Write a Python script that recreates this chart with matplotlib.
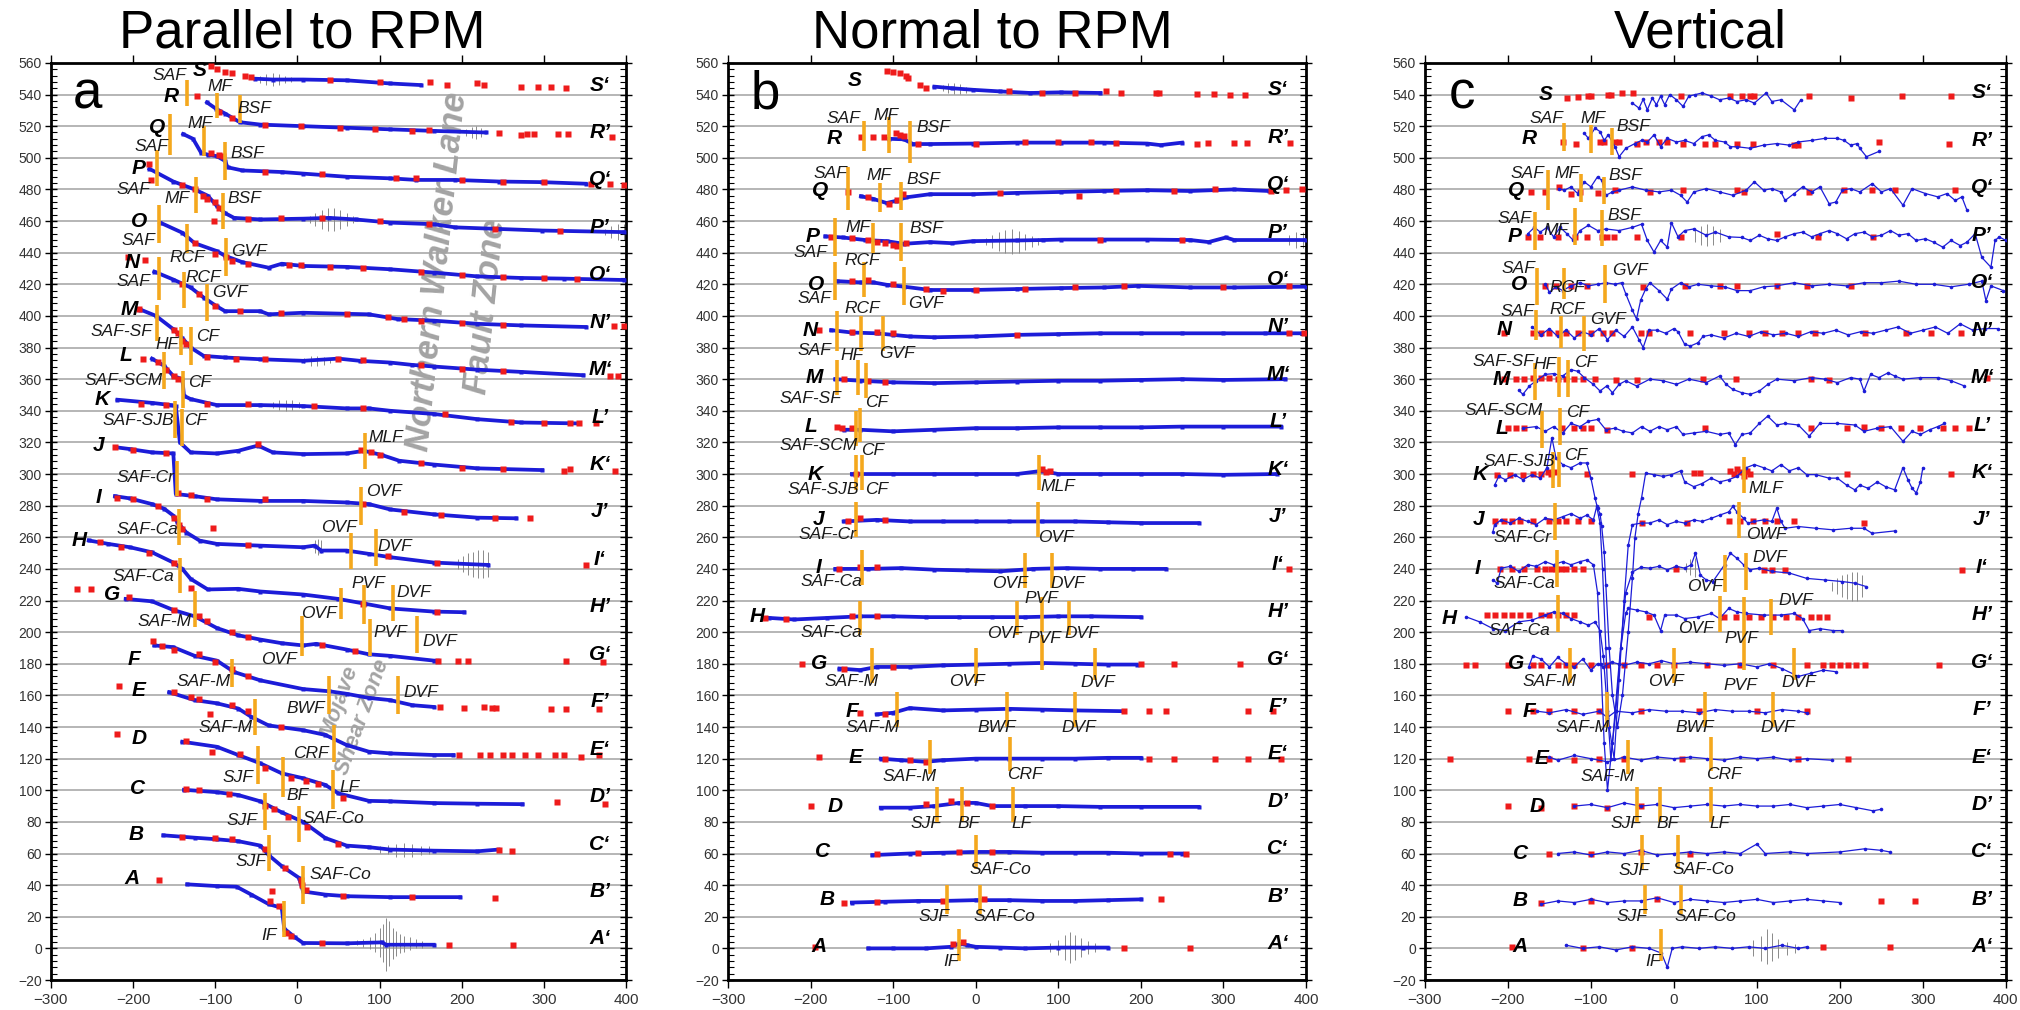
import numpy as np
import matplotlib.pyplot as plt
from matplotlib.ticker import MultipleLocator

plt.rcParams['font.family'] = ['Liberation Sans', 'DejaVu Sans']

BLUE = '#1c1cd8'
RED = '#ee1b1b'
ORANGE = '#f4a81d'
GREY_TXT = '#a3a3a3'

NAMES = list('ABCDEFGHIJKLMNOPQRS')
RIGHT_NAMES = [n + ('\u2018' if i % 2 == 0 else '\u2019') for i, n in enumerate(NAMES)]

# ---------------------------------------------------------------
# a) parallel to RPM : (distance [km], plotted velocity)
# ---------------------------------------------------------------
par_A = [(-134, 40.5), (-98, 39.4), (-74, 39), (-56, 34), (-35, 28), (-19, 25.6), (-16, 12.5),
         (-3, 7), (7, 3.4), (60, 3.2), (103, 3.8), (108, 2.3), (166, 2.3)]
par_B = [(-163, 71.5), (-125, 70), (-98, 69), (-72, 67.8), (-45, 65), (-35, 59), (-19, 52),
         (2, 44.6), (7, 36), (34, 34), (60, 33), (113, 32.4), (198, 32.4)]
par_C = [(-138, 100.3), (-98, 98.8), (-72, 97), (-45, 93), (-19, 86), (7, 80), (34, 69.8),
         (60, 65), (87, 64), (113, 62.5), (166, 61.8), (219, 61.4), (245, 62.5)]
par_D = [(-140, 130.7), (-98, 127.5), (-72, 122.3), (-45, 117), (-19, 110.7), (7, 107.6),
         (34, 103.4), (50, 98), (87, 93.3), (113, 93), (166, 91.9), (219, 91.5), (274, 91.2)]
par_E = [(-156, 162), (-125, 157), (-98, 155), (-72, 151.7), (-56, 146.4), (-35, 141), (7, 138),
         (34, 135), (60, 128.6), (87, 124.4), (113, 123.3), (166, 122.3), (190, 122.3)]
par_F = [(-174, 191.6), (-151, 190.5), (-125, 185), (-98, 182), (-77, 174.8), (-45, 169.5),
         (7, 164), (39, 162.6), (60, 161), (87, 158.4), (113, 157), (140, 153.8), (166, 152.7)]
par_G = [(-209, 221), (-177, 219.5), (-151, 214), (-125, 210), (-98, 202.6), (-72, 198),
         (-45, 195.3), (-19, 193), (7, 191.6), (23, 192.6), (60, 189), (87, 186), (113, 185),
         (166, 182), (171, 182)]
par_H = [(-254, 258), (-230, 255.8), (-204, 253.7), (-177, 250.5), (-151, 244), (-140, 240),
         (-130, 233.7), (-109, 227), (-72, 227.4), (-45, 225.7), (7, 223.8), (50, 221), (82, 218),
         (113, 215), (166, 213), (203, 212.6)]
par_I = [(-222, 286), (-204, 284.6), (-177, 281), (-162, 278), (-151, 273.7), (-146, 269.5),
         (-135, 263), (-119, 257.9), (-98, 255.8), (-45, 254.7), (7, 253.7), (21, 254.7),
         (29, 251.6), (60, 251.6), (87, 249.5), (113, 247.4), (166, 244), (232, 242.5)]
par_J = [(-222, 317), (-204, 315.8), (-177, 313.7), (-151, 313), (-148, 287.4), (-125, 286),
         (-98, 284), (-45, 283), (7, 283), (60, 282), (87, 281), (113, 277.6), (166, 274.5),
         (219, 272.4), (266, 272)]
par_K = [(-219, 347), (-177, 345), (-154, 343.6), (-148, 343), (-143, 320), (-130, 313.7),
         (-98, 313), (-72, 314.7), (-48, 318), (-30, 313.7), (7, 312.6), (60, 313), (81, 314.7),
         (103, 312), (124, 308.4), (166, 306), (219, 303.6), (298, 302.5)]
par_L = [(-177, 373), (-162, 368.4), (-151, 362), (-140, 360), (-138, 349.5), (-130, 347.4),
         (-98, 343.6), (-45, 343.6), (7, 343), (60, 341.5), (87, 341.5), (113, 340), (166, 338),
         (219, 334.7), (272, 332.6), (343, 332)]
par_M = [(-191, 404), (-172, 400), (-151, 391.6), (-140, 386), (-130, 380), (-114, 374.7),
         (-88, 373.7), (-45, 372.6), (7, 371.6), (50, 373), (76, 371.6), (113, 370.5), (140, 369),
         (166, 368), (219, 366), (272, 364.6), (348, 362.5)]
par_N = [(-174, 428), (-151, 423), (-130, 418), (-114, 411.6), (-98, 406), (-88, 403), (-45, 403),
         (-35, 401), (7, 402), (87, 401), (122, 398), (166, 397), (219, 395), (272, 394), (351, 393)]
par_O = [(-167, 459), (-140, 452.6), (-125, 446), (-98, 441), (-88, 438), (-67, 434),
         (-35, 430.5), (-19, 433), (7, 431.6), (60, 431), (113, 429.5), (166, 427.4), (219, 425),
         (272, 424), (324, 423.6), (398, 422.7)]
par_P = [(-180, 493), (-151, 485), (-125, 480), (-109, 476), (-98, 469.5), (-88, 465), (-77, 462),
         (-45, 461), (7, 461.5), (39, 462), (71, 461), (113, 459), (166, 458), (192, 456),
         (245, 455), (298, 454), (398, 453)]
par_Q = [(-139, 515), (-127, 512), (-117, 503), (-109, 502), (-98, 501), (-88, 498), (-85, 494),
         (-67, 492), (-19, 491), (7, 490), (60, 488), (113, 487), (145, 486), (192, 486),
         (245, 485), (298, 484.6), (351, 483.6)]
par_R = [(-110, 535), (-99, 531), (-88, 528), (-70, 522.5), (-45, 521), (7, 520), (60, 519),
         (113, 518), (166, 517), (229, 516)]
par_S = [(-51, 550), (-30, 549.5), (7, 549.5), (60, 549), (113, 547), (150, 546)]

par_A_gps = [(-168, 43), (-31, 36), (-33, 30), (-22, 27), (-14, 10), (-8, 8), (30, 3.5), (184, 2.3), (263, 2.3)]
par_B_gps = [(-140, 70.5), (-100, 69.5), (-80, 69), (-40, 63), (-15, 51), (4, 43), (6, 40), (10, 37), (55, 33), (140, 32.5), (240, 32)]
par_C_gps = [(-135, 101), (-120, 100), (-83, 97.5), (-40, 90), (-28, 88), (-12, 83), (12, 77), (50, 66), (245, 62.5), (261, 61.4)]
par_D_gps = [(-220, 135.3), (-135, 131), (-104, 124), (-70, 123), (-40, 114), (-8, 108), (10, 106), (25, 104), (55, 95), (316, 92.5), (375, 91.5)]
par_E_gps = [(-217, 166), (-150, 162), (-130, 159), (-106, 148.5), (-120, 158), (-80, 154), (-60, 150), (-20, 140),
             (197, 122), (222, 122), (234, 122), (250, 122), (261, 122), (277, 122), (293, 122), (313, 122), (324, 122), (345, 121), (367, 122)]
par_F_gps = [(-176, 194.7), (-165, 191), (-150, 189), (-120, 186), (-100, 181), (-80, 177), (-60, 172), (174, 152.7), (203, 152),
             (227, 152.7), (237, 152), (242, 152), (309, 151.7), (327, 151.7), (367, 151.7)]
par_G_gps = [(-205, 222), (-150, 214), (-120, 210), (-110, 207), (-80, 200), (-60, 197), (30, 192), (70, 188), (171, 182), (195, 182), (208, 182), (327, 181.5), (372, 181)]
par_H_gps = [(-268, 227.4), (-251, 227), (-240, 257), (-215, 254), (-129, 227.8), (-180, 250), (-150, 244), (80, 218), (170, 213)]
par_I_gps = [(-220, 285), (-200, 284), (-170, 280), (-150, 272), (-144, 268), (-140, 265), (-103, 266), (-60, 255), (110, 248), (170, 244), (351, 242.5)]
par_J_gps = [(-222, 317), (-200, 315), (-160, 313), (-145, 288), (-130, 287), (-110, 284), (-40, 284), (80, 281), (130, 276), (175, 274), (240, 272), (283, 272.4)]
par_K_gps = [(-190, 344), (-160, 343.6), (-48, 319), (78, 315), (90, 314), (100, 312), (150, 307), (200, 304), (250, 303), (324, 302), (332, 303), (387, 302)]
par_L_gps = [(-188, 373), (-170, 371), (-160, 366), (-150, 362), (-145, 360), (-110, 344), (-60, 344), (20, 343), (80, 342), (180, 338),
             (260, 333), (300, 332), (332, 332), (343, 332), (364, 332)]
par_M_gps = [(-193, 404.6), (-150, 391), (-145, 389), (-140, 384), (-135, 382), (-110, 374), (-75, 373), (-40, 373), (50, 373), (80, 372),
             (150, 369), (200, 366.5), (250, 365), (380, 362), (390, 362)]
par_N_gps = [(-206, 437), (-185, 435.6), (-140, 420), (-120, 414), (-100, 406), (-70, 403), (-20, 402), (60, 401), (110, 399), (130, 398),
             (150, 397), (200, 395.5), (250, 394.5), (385, 393.7), (398, 393.7)]
par_O_gps = [(-125, 446), (-100, 439), (-87, 437), (-80, 435), (-60, 433), (-10, 432), (5, 432), (40, 431), (80, 430.5), (150, 428),
             (200, 426), (250, 424.5), (300, 424), (340, 423.5)]
par_P_gps = [(-180, 496), (-178, 486), (-140, 483), (-125, 480), (-115, 476), (-110, 474), (-100, 472), (-95, 468), (-101, 460), (-60, 461),
             (-20, 462), (30, 462), (100, 460), (160, 458), (240, 455), (320, 454)]
par_Q_gps = [(-105, 503), (-95, 502), (-90, 501), (-40, 491), (30, 490), (120, 487), (145, 487), (200, 486), (250, 485), (300, 484.5),
             (358, 483.6), (380, 483.6), (398, 483)]
par_R_gps = [(-122, 539), (-96, 529), (-80, 525), (-40, 521), (5, 520), (52, 519), (95, 518), (140, 517), (160, 517.5), (245, 515.4),
             (272, 514.7), (280, 515), (288, 515), (317, 515), (330, 515), (383, 513)]
par_S_gps = [(-105, 558), (-98, 556), (-88, 554), (-80, 553.5), (-64, 551.5), (-56, 551), (40, 549), (100, 548),
             (161, 548), (182, 546), (219, 547), (227, 546), (272, 545), (293, 545), (309, 545), (327, 544)]

par_err = [(-45, 549.5, 2), (-38, 549.5, 3.5), (-30, 549.5, 4), (-22, 549.5, 3.5), (-15, 549.5, 2.5), (-8, 549.5, 1.5),
           (205, 516, 2), (212, 516, 3.5), (218, 516, 4), (224, 516, 3),
           (15, 461, 2), (22, 461, 4), (30, 461, 6), (37, 461, 7), (44, 461, 7), (52, 461, 6), (60, 461, 4), (68, 461, 2),
           (375, 453, 2), (382, 453, 4), (390, 453, 5), (397, 453, 5),
           (8, 371.6, 1.5), (16, 371.6, 3), (24, 371.6, 3), (32, 371.6, 2.5), (40, 371.6, 1.5),
           (-30, 343.6, 2), (-22, 343.6, 3), (-14, 343.6, 3.5), (-6, 343.6, 3), (2, 343.6, 2),
           (21, 254, 4), (25, 254, 5), (29, 254, 4),
           (195, 243, 3), (202, 243, 5), (208, 243, 7), (214, 243, 8), (220, 243, 9), (226, 243, 9), (232, 243, 8),
           (100, 62.5, 2), (110, 62.5, 3), (120, 62, 4), (130, 62, 4.5), (140, 62, 4), (150, 62, 3), (160, 62, 2.5),
           (72, 3.5, 1.5), (80, 3.5, 2.5), (88, 3.5, 4), (95, 3.5, 6), (100, 3.8, 9), (104, 3.5, 12), (108, 2.5, 17),
           (112, 3, 14), (116, 3, 10), (120, 3, 8), (125, 3, 6), (130, 3, 5), (137, 3, 4), (145, 3, 3), (152, 2.5, 2)]

# fault: name, x, y bottom, y top, label x, label y
par_faults = [("SAF", -134, 533, 549, -156, 552), ("MF", -98, 525, 541, -94, 545), ("BSF", -70, 522, 540, -52, 531),
              ("SAF", -155, 502, 528, -178, 507), ("MF", -114, 501, 520, -118, 522), ("BSF", -88, 486, 510, -61, 503),
              ("SAF", -171, 482, 505, -199, 480), ("MF", -123, 465, 488, -146, 474), ("BSF", -90, 455, 478, -64, 474),
              ("SAF", -168, 446, 470, -193, 448), ("RCF", -134, 440, 458, -134, 437), ("GVF", -87, 425, 449, -59, 441),
              ("SAF", -168, 410, 437, -200, 422), ("RCF", -138, 405, 428, -114, 424), ("GVF", -110, 397, 420, -82, 415),
              ("SAF-SF", -171, 384, 407, -214, 390), ("HF", -142, 375, 393, -159, 382), ("CF", -130, 369, 393, -109, 387),
              ("SAF-SCM", -162, 354, 377, -212, 359), ("CF", -139, 342, 365, -119, 358),
              ("SAF-SJB", -149, 323, 346, -193, 334), ("CF", -141, 318, 341, -124, 334), ("MLF", 82, 303, 326, 108, 323),
              ("SAF-Cr", -147, 286, 308, -185, 298), ("OVF", 77, 268, 292, 105, 289),
              ("SAF-Ca", -144, 255, 278, -183, 265), ("OVF", 65, 240, 263, 50, 266), ("DVF", 96, 242, 265, 119, 254),
              ("SAF-Ca", -143, 225, 247, -188, 235), ("OVF", 53, 208, 228, 26, 212), ("PVF", 81, 205, 230, 87, 231), ("DVF", 117, 207, 230, 142, 225),
              ("SAF-M", -124, 203, 226, -162, 207), ("OVF", 6, 185, 210, -22, 183), ("PVF", 88, 185, 208, 113, 200), ("DVF", 146, 187, 210, 173, 194),
              ("SAF-M", -79, 165, 183, -114, 169), ("BWF", 38, 148, 172, 10, 152), ("DVF", 122, 148, 172, 150, 162),
              ("SAF-M", -51, 135, 158, -88, 140), ("CRF", 45, 118, 141, 17, 123),
              ("SJF", -48, 104, 128, -72, 108), ("BF", -18, 96, 121, 0, 97), ("LF", 43, 88, 113, 63, 102),
              ("SJF", -39, 75, 98, -67, 81), ("SAF-Co", 2, 67, 90, 44, 82),
              ("SJF", -35, 49, 72, -57, 55), ("SAF-Co", 7, 28, 52, 52, 47),
              ("IF", -16, 7, 30, -35, 8)]

par_left = [(-201, 44), (-196, 72), (-194, 101), (-193, 133), (-193, 163), (-199, 183), (-226, 224), (-265, 258),
            (-242, 285), (-242, 318), (-238, 347), (-208, 375), (-205, 404), (-201, 434), (-193, 460), (-193, 493),
            (-171, 519), (-154, 539), (-119, 555)]

# ---------------------------------------------------------------
# b) normal to RPM
# ---------------------------------------------------------------
nor_A = [(-130, 0), (-100, 0), (-60, 0), (-30, 1), (-20, 3), (-10, 2), (0, 1), (30, 0.5), (60, 0), (100, 0.5), (130, 0.5), (160, 0.5)]
nor_B = [(-150, 29), (-110, 29.5), (-70, 30), (-40, 30), (0, 30.5), (40, 30.5), (80, 30), (120, 30), (160, 30.5), (200, 31)]
nor_C = [(-125, 59), (-80, 60), (-40, 60.5), (0, 61), (40, 61), (80, 60.5), (120, 60.5), (160, 60.5), (200, 60), (250, 60)]
nor_D = [(-115, 89), (-80, 89), (-50, 90), (-20, 92), (0, 92), (20, 90), (60, 90), (100, 90), (150, 89.5), (200, 89.5), (270, 89.5)]
nor_E = [(-115, 120), (-90, 119), (-60, 118), (-40, 119), (0, 120), (40, 120), (80, 120), (120, 120), (160, 120.5), (200, 120.5)]
nor_F = [(-120, 148), (-100, 149), (-80, 152), (-40, 150.5), (0, 151), (40, 151.5), (80, 151), (120, 150.5), (180, 150)]
nor_G = [(-165, 177), (-140, 176), (-120, 178), (-80, 178), (-40, 179), (0, 179.5), (40, 180), (80, 180.5), (120, 180), (160, 179.5), (195, 179.5)]
nor_H = [(-250, 209), (-220, 208), (-180, 209), (-140, 210), (-100, 210), (-60, 209.5), (-20, 209.5), (20, 209.5), (60, 209.5), (100, 210), (140, 210), (200, 209.5)]
nor_I = [(-170, 240), (-130, 240), (-90, 240.5), (-50, 239.5), (-10, 239), (30, 238.5), (70, 240), (110, 240.5), (150, 240), (190, 240), (230, 240)]
nor_J = [(-160, 270), (-120, 271), (-80, 270), (-40, 270), (0, 270), (40, 270), (80, 270), (120, 270), (160, 269.5), (200, 269), (270, 269)]
nor_K = [(-150, 300), (-100, 300), (-50, 300), (0, 300), (50, 300), (80, 302), (100, 300), (150, 300), (200, 300), (250, 300), (300, 299.5), (365, 300)]
nor_L = [(-160, 328), (-140, 328), (-100, 327), (-50, 328), (0, 329), (50, 329), (100, 329.5), (150, 329.5), (200, 329.5), (250, 330), (300, 330), (370, 330)]
nor_M = [(-170, 360), (-140, 359), (-100, 358), (-50, 357.5), (0, 358), (50, 358.5), (100, 359), (150, 359), (200, 359.5), (250, 360), (300, 359.5), (375, 360)]
nor_N = [(-175, 391), (-150, 389.5), (-120, 389), (-100, 388), (-80, 387), (-50, 386.5), (0, 387), (50, 388), (100, 388.5), (150, 389),
         (200, 389), (250, 389), (300, 389), (350, 389), (395, 389)]
nor_O = [(-168, 422), (-139, 421.2), (-124, 421.2), (-108, 419.7), (-87, 418.5), (-55, 416.4), (-3, 416.4), (50, 417), (103, 417.6),
         (155, 418), (197, 419), (260, 418), (313, 418), (400, 418.5)]
nor_P = [(-182, 450.3), (-161, 449.6), (-134, 448), (-108, 447.3), (-87, 445.6), (-55, 446.7), (-29, 446), (-3, 447.3), (50, 447.7),
         (82, 448), (103, 448.3), (155, 448.3), (208, 448.3), (260, 448), (282, 446.7), (303, 449.6), (313, 448), (400, 448)]
nor_Q = [(-139, 475.7), (-124, 474), (-108, 471.4), (-97, 472.7), (-84, 475), (-55, 477), (-3, 477), (50, 477.8), (103, 478.4),
         (155, 479), (208, 479.5), (260, 479), (313, 480), (355, 479)]
nor_R = [(-105, 512), (-87, 511.7), (-76, 508.7), (-55, 508.7), (-3, 509), (50, 509.6), (103, 509.6), (155, 509.6), (208, 509),
         (224, 508), (250, 509.6)]
nor_S = [(-50, 545), (-29, 544), (-3, 543), (29, 542), (66, 541), (103, 541.4), (151, 541)]

nor_A_gps = [(-195, 1), (-28, 3), (-15, 4), (180, 0.5), (260, 0.5)]
nor_B_gps = [(-160, 29), (-120, 29.5), (-40, 30), (10, 31), (225, 31)]
nor_C_gps = [(-120, 60), (-70, 60.5), (-20, 61), (20, 61), (235, 60), (255, 60)]
nor_D_gps = [(-200, 90), (-60, 91), (-30, 93), (-10, 92), (20, 90)]
nor_E_gps = [(-190, 121), (-110, 120), (-80, 119), (-60, 118), (210, 120), (240, 120), (290, 120), (330, 120), (370, 120)]
nor_F_gps = [(-140, 149), (-110, 148), (180, 150), (210, 150), (230, 150), (330, 150), (360, 150)]
nor_G_gps = [(-210, 180), (-160, 177), (-100, 178), (200, 180), (240, 180), (320, 180)]
nor_H_gps = [(-255, 209), (-230, 208), (-150, 210), (-120, 210)]
nor_I_gps = [(-165, 240), (-140, 241), (-120, 241), (380, 240)]
nor_J_gps = [(-155, 270), (-140, 272), (-110, 271)]
nor_K_gps = [(-145, 300), (80, 303), (85, 301), (90, 302)]
nor_L_gps = [(-168, 330), (-162, 329), (-150, 329)]
nor_M_gps = [(-160, 360), (-130, 359), (-110, 358)]
nor_N_gps = [(-190, 391), (-150, 390), (-120, 390), (-100, 389), (50, 388), (380, 389), (398, 389)]
nor_O_gps = [(-150, 422), (-130, 423), (-100, 420), (-60, 417), (-40, 416), (0, 416.5), (60, 417), (120, 418), (180, 419), (300, 418), (380, 419)]
nor_P_gps = [(-175, 450), (-150, 449), (-130, 448), (-120, 447), (-110, 446), (-100, 445), (-95, 444), (-85, 446), (150, 448), (250, 448)]
nor_Q_gps = [(-155, 478.4), (-130, 475), (-105, 471), (-95, 473), (-88, 477), (30, 478), (125, 476), (170, 479), (240, 479), (290, 480),
             (358, 479), (376, 479.5), (395, 480)]
nor_R_gps = [(-139, 513), (-124, 513), (-111, 513.4), (-97, 515.5), (-92, 514.5), (-87, 513.8), (-70, 509), (0, 509), (60, 510), (100, 510),
             (140, 510), (170, 509.5), (268, 508.5), (281, 509.6), (313, 509.6), (329, 509.6), (381, 509.6)]
nor_S_gps = [(-108, 555), (-100, 554), (-92, 553.6), (-84, 552), (-82, 550.5), (-68, 546), (-60, 544), (40, 542), (80, 541), (120, 541),
             (158, 542), (176, 541), (218, 541), (222, 541), (268, 540.3), (289, 540.3), (308, 540), (326, 540)]

nor_err = [(-40, 544, 2), (-33, 544, 3), (-26, 544, 3.5), (-19, 543.5, 3), (-12, 543, 2),
           (13, 447, 2), (20, 447, 4), (28, 447, 6), (36, 447, 7.5), (44, 447, 8), (52, 447, 7), (60, 447, 5), (68, 447, 3.5), (76, 447, 2),
           (380, 448, 3), (388, 448, 5), (396, 448, 5),
           (90, 0.5, 3), (100, 0.5, 5), (108, 0.5, 8), (114, 0.5, 10), (120, 0.5, 8), (128, 0.5, 6), (136, 0.5, 4), (145, 0.5, 3)]

nor_faults = [("SAF", -135, 504, 523, -160, 525), ("MF", -105, 503, 526, -108, 527), ("BSF", -80, 497, 523, -51, 519),
              ("SAF", -155, 467, 494, -176, 490), ("MF", -116, 466, 484, -117, 489), ("BSF", -91, 467, 485, -63, 486),
              ("SAF", -171, 438, 462, -200, 440), ("MF", -124, 440, 459, -142, 456), ("BSF", -91, 435, 459, -60, 455),
              ("SAF", -170, 410, 434, -195, 411), ("RCF", -135, 412, 434, -137, 435), ("GVF", -87, 407, 431, -60, 408),
              ("SAF", -168, 378, 403, -195, 378), ("RCF", -139, 378, 400, -137, 405), ("GVF", -112, 378, 400, -95, 376),
              ("SAF-SF", -168, 350, 372, -200, 348), ("HF", -143, 350, 372, -150, 375), ("CF", -133, 348, 370, -120, 345),
              ("SAF-SCM", -145, 318, 340, -190, 318), ("CF", -140, 320, 342, -125, 315),
              ("SAF-SJB", -145, 290, 312, -185, 290), ("CF", -138, 290, 312, -120, 290), ("MLF", 77, 290, 312, 100, 292),
              ("SAF-Cr", -145, 260, 282, -180, 262), ("OVF", 75, 260, 282, 97, 260),
              ("SAF-Ca", -138, 230, 252, -175, 232), ("OVF", 60, 228, 250, 42, 231), ("DVF", 92, 228, 250, 112, 231),
              ("SAF-Ca", -140, 198, 220, -175, 200), ("OVF", 50, 198, 220, 35, 199), ("PVF", 80, 200, 222, 80, 221), ("DVF", 113, 198, 220, 128, 199),
              ("SAF-M", -125, 168, 190, -150, 169), ("OVF", 0, 168, 190, -10, 169), ("PVF", 80, 176, 198, 83, 196), ("DVF", 145, 170, 190, 148, 168),
              ("SAF-M", -95, 140, 162, -125, 140), ("BWF", 38, 140, 162, 25, 140), ("DVF", 120, 140, 162, 125, 140),
              ("SAF-M", -55, 110, 132, -80, 109), ("CRF", 42, 112, 134, 60, 110),
              ("SJF", -47, 80, 102, -60, 79), ("BF", -17, 80, 102, -8, 79), ("LF", 45, 80, 102, 55, 79),
              ("SAF-Co", 0, 50, 72, 30, 50),
              ("SJF", -35, 22, 40, -50, 20), ("SAF-Co", 5, 22, 40, 35, 20),
              ("IF", -20, -8, 12, -30, -8)]

nor_left = [(-190, 1), (-180, 31), (-185, 61), (-170, 90), (-145, 121), (-150, 150), (-190, 180), (-265, 210),
            (-190, 241), (-190, 271), (-195, 300), (-200, 330), (-195, 361), (-200, 391), (-193, 420), (-197, 450),
            (-189, 479.5), (-171, 512), (-147, 549)]

# ---------------------------------------------------------------
# c) vertical
# ---------------------------------------------------------------
ver_A = [(-130, 2), (-110, 0), (-90, 1), (-70, -1), (-50, 1), (-30, 0), (-15, -3), (-8, -12), (-2, 0), (10, 1), (30, 0), (50, 1),
         (70, 0), (90, 1), (110, 0), (130, 2), (150, 0), (160, 1)]
ver_B = [(-160, 28), (-140, 30), (-120, 29), (-100, 31), (-80, 29), (-60, 30), (-40, 30), (-20, 32), (0, 29), (20, 31), (40, 30),
         (60, 29), (80, 30), (100, 31), (120, 29), (140, 30), (160, 31), (180, 30), (200, 29)]
ver_C = [(-140, 60), (-120, 61), (-100, 59), (-80, 61), (-60, 60), (-40, 62), (-20, 59), (0, 60), (20, 61), (40, 60), (60, 61),
         (80, 60), (100, 66), (110, 60), (140, 61), (160, 60), (200, 61), (230, 63), (250, 62), (260, 61)]
ver_D = [(-120, 90), (-100, 91), (-80, 89), (-60, 92), (-40, 90), (-20, 91), (0, 89), (20, 90), (40, 91), (60, 90), (80, 91),
         (100, 90), (120, 90), (140, 91), (160, 89), (180, 90), (200, 91), (220, 89), (240, 87), (250, 88)]
ver_E = [(-150, 121), (-140, 119), (-120, 122), (-100, 120), (-80, 118), (-60, 121), (-40, 119), (-20, 121), (0, 120), (20, 121),
         (40, 120), (60, 119), (80, 121), (100, 120), (120, 121), (140, 119), (160, 120), (190, 119)]
ver_F = [(-165, 150), (-150, 149), (-130, 151), (-110, 148), (-90, 150), (-80, 146), (-70, 150), (-50, 149), (-30, 151), (-10, 150),
         (10, 150), (30, 149), (50, 151), (70, 150), (90, 150), (110, 149), (130, 151), (150, 150), (160, 149)]
ver_G = [(-175, 178), (-170, 185), (-160, 183), (-150, 178), (-140, 184), (-130, 180), (-120, 178), (-110, 183), (-100, 176), (-92, 180),
         (-85, 178), (-75, 181), (-60, 179), (-45, 181), (-30, 180), (-15, 182), (0, 180), (20, 181), (40, 180), (60, 179), (80, 180),
         (100, 178), (115, 180), (130, 177), (150, 172), (165, 174), (180, 176), (195, 175)]
ver_H = [(-250, 209.6), (-234, 206.5), (-218, 202.2), (-203, 201), (-187, 206.5), (-171, 207.6), (-155, 210.8), (-145, 212.8),
         (-134, 211.8), (-124, 208.6), (-113, 206.5), (-103, 204.4), (-95, 206.5), (-89, 201), (-85, 185), (-80, 150), (-76, 120),
         (-70, 150), (-64, 190), (-58, 212), (-55, 215), (-45, 214), (-34, 212.8), (-24, 210.8), (-16, 201), (-11, 210.8), (3, 210.8),
         (13, 208.6), (29, 209.6), (45, 211.8), (55, 208.6), (66, 215), (76, 212.8), (87, 211.8), (108, 210.8), (129, 210.8),
         (145, 211.8), (155, 208.6), (163, 201), (176, 202.2), (192, 201), (203, 201)]
ver_I = [(-218, 233), (-213, 231), (-208, 240.5), (-197, 241.6), (-187, 238.4), (-176, 242.6), (-166, 241.6), (-155, 244.6),
         (-145, 242.6), (-134, 244.6), (-124, 242.6), (-113, 244.6), (-105, 245.7), (-97, 242.6), (-92, 225), (-88, 180),
         (-84, 130), (-80, 100), (-74, 130), (-66, 180), (-58, 225), (-50, 238), (-40, 241), (-29, 240.5), (-18, 241.6),
         (-8, 239.5), (3, 241.6), (13, 240.5), (21, 242.6), (26, 250), (32, 236), (39, 233), (47, 232), (61, 242.6), (68, 250),
         (76, 246.7), (84, 242.6), (92, 239.5), (103, 240.5), (118, 238.4), (139, 237.4), (160, 234), (182, 233), (203, 232),
         (218, 231), (232, 228.8)]
ver_J = [(-218, 263.6), (-216, 268), (-208, 271), (-197, 269), (-187, 272), (-176, 270), (-166, 268), (-155, 272), (-145, 271),
         (-134, 273), (-124, 275), (-113, 272), (-105, 274), (-97, 271), (-93, 279.5), (-89, 269), (-86, 240), (-82, 190),
         (-78, 140), (-72, 120), (-66, 170), (-60, 220), (-55, 255), (-50, 268), (-39, 269), (-29, 269), (-18, 271), (-8, 268),
         (3, 270), (13, 269), (24, 271), (34, 270), (45, 272), (55, 274), (66, 276), (71, 279.5), (76, 276), (84, 272), (89, 269),
         (97, 270), (108, 271), (118, 270), (124, 278.4), (129, 270), (134, 265.7), (150, 266.8), (171, 265.7), (192, 264.7),
         (213, 265.7), (229, 265.7), (239, 262.5), (266, 264)]
ver_K = [(-216, 293), (-211, 298.5), (-203, 296.4), (-192, 299.6), (-182, 296.4), (-171, 299.6), (-161, 297.4), (-153, 304),
         (-147, 323), (-142, 310), (-134, 306), (-124, 304), (-113, 307), (-105, 307), (-100, 297.4), (-95, 284.8), (-92, 278.4),
         (-89, 275), (-87, 267), (-84, 251), (-82, 230), (-78, 190), (-74, 160), (-68, 140), (-62, 160), (-55, 200), (-50, 234),
         (-47, 259.6), (-43, 275), (-39, 284.8), (-34, 300.6), (-24, 299.6), (-13, 298.5), (-3, 299.6), (8, 302), (13, 295),
         (24, 292), (34, 294), (45, 297.4), (55, 295), (66, 296.4), (76, 298.5), (87, 304), (97, 306), (108, 304), (118, 302),
         (129, 306), (139, 302), (150, 304), (160, 299.6), (171, 299.6), (187, 297.4), (197, 297.4), (208, 293), (218, 290),
         (224, 293), (234, 291), (245, 295), (255, 292), (266, 290), (276, 304), (282, 296.4), (287, 291), (292, 288),
         (297, 295), (300, 304)]
ver_L = [(-182, 329), (-166, 330), (-155, 327), (-145, 330), (-134, 326), (-124, 332), (-113, 330), (-103, 333.4), (-92, 334.5),
         (-82, 328), (-71, 329), (-61, 327), (-50, 326), (-39, 330), (-29, 327), (-18, 330), (-8, 328), (3, 330), (11, 325),
         (24, 326), (39, 327), (55, 325), (66, 326), (74, 318.6), (82, 325), (92, 326), (103, 332), (113, 336.6), (124, 331),
         (134, 332), (150, 331), (163, 324), (176, 332), (197, 332), (218, 331), (229, 327), (245, 329), (261, 330), (276, 320.7),
         (287, 327), (297, 325), (308, 328), (318, 330), (326, 332)]
ver_M = [(-187, 353), (-182, 350.4), (-174, 355.7), (-166, 359), (-155, 363), (-145, 363.5), (-134, 362), (-124, 366), (-116, 365),
         (-108, 361), (-97, 356.7), (-89, 352.5), (-81, 355.7), (-74, 351.4), (-66, 356.7), (-58, 359), (-45, 355.7), (-29, 360),
         (-13, 359), (3, 356.7), (18, 360), (39, 357.8), (55, 362), (63, 356.7), (71, 353.5), (82, 351.4), (92, 350.4), (103, 352.5),
         (113, 356.7), (124, 360), (145, 359), (166, 361), (182, 360), (197, 357.8), (213, 361), (224, 360), (229, 352.5),
         (237, 363), (247, 361), (258, 364), (266, 362), (276, 360), (297, 361), (318, 361), (334, 359), (350, 355.7)]
ver_N = [(-171, 393), (-160, 388), (-150, 392), (-140, 387), (-130, 391), (-120, 386), (-110, 390), (-100, 388), (-90, 392),
         (-80, 385), (-70, 391), (-60, 387), (-50, 393), (-42, 385), (-37, 380), (-30, 391), (-20, 391), (-10, 389), (0, 392),
         (5, 390), (13, 382), (20, 381), (29, 383), (35, 387), (45, 388), (60, 386), (75, 389), (90, 387), (105, 390), (120, 388),
         (135, 389), (150, 387), (165, 390), (180, 389), (195, 391), (210, 388), (225, 390), (240, 389), (255, 391), (270, 393),
         (285, 389), (300, 391), (315, 393), (330, 389), (345, 395), (360, 391), (375, 392), (390, 392)]
ver_O = [(-155, 420), (-150, 415), (-142, 418.4), (-134, 416), (-124, 419), (-113, 421), (-103, 419), (-92, 420), (-82, 421),
         (-71, 420), (-63, 421), (-58, 414), (-50, 403.6), (-45, 398), (-40, 410), (-34, 417), (-29, 421), (-18, 416), (-8, 410.6),
         (-3, 417), (8, 421), (18, 418.4), (29, 420), (45, 419), (61, 418.4), (76, 416), (92, 416), (108, 418.4), (124, 419),
         (145, 421), (166, 419), (187, 420), (208, 419), (229, 421), (250, 421), (271, 422), (292, 420), (313, 420), (334, 418.4),
         (355, 420), (371, 422), (376, 409.6), (382, 419), (397, 416)]
ver_P = [(-176, 452), (-168, 456), (-161, 453), (-153, 456), (-145, 450), (-137, 456), (-129, 452), (-121, 447.7), (-113, 454),
         (-103, 457.3), (-92, 454), (-82, 455), (-66, 454), (-50, 456), (-39, 458), (-32, 447.7), (-24, 440.4), (-16, 447.7),
         (-8, 443.5), (-3, 459), (5, 450), (13, 454), (24, 455), (39, 451), (50, 453), (66, 450), (82, 449.6), (92, 447.7),
         (103, 451), (113, 448.8), (124, 447.7), (134, 450), (145, 452), (155, 453), (166, 450), (176, 452), (187, 454),
         (197, 452), (208, 448.8), (218, 452), (229, 453), (239, 450), (250, 451), (261, 454), (271, 451), (282, 452),
         (292, 447.7), (303, 448.8), (313, 446.6), (324, 443.5), (334, 447.7), (345, 444.5), (353, 446.6), (363, 452),
         (371, 437), (382, 430.8), (387, 447.7), (392, 450), (400, 447.7)]
ver_Q = [(-139, 480.5), (-132, 479.5), (-124, 481.6), (-116, 477.4), (-108, 484.8), (-100, 481.6), (-92, 488), (-87, 485.8),
         (-82, 476.3), (-74, 478.4), (-66, 479.5), (-50, 481.6), (-34, 479.5), (-18, 478.4), (-3, 479.5), (8, 476.3), (16, 472),
         (24, 478.4), (39, 480.5), (55, 478.4), (71, 476.3), (87, 479.5), (97, 484.8), (108, 479.5), (118, 480.5), (129, 478.4),
         (134, 473), (145, 477.4), (155, 481.6), (166, 478.4), (176, 481.6), (187, 471), (195, 472), (203, 479.5), (213, 480.5),
         (224, 478.4), (239, 483.7), (250, 478.4), (261, 480.5), (276, 470), (287, 480.5), (303, 477.4), (318, 475.3),
         (329, 477.4), (339, 473), (347, 475.3), (353, 467)]
ver_R = [(-108, 515.5), (-103, 512.3), (-95, 518.7), (-89, 516.6), (-84, 511), (-79, 514.5), (-71, 507), (-66, 500.7), (-58, 506),
         (-47, 509), (-39, 511), (-32, 510), (-24, 514.5), (-16, 507), (-8, 512.3), (3, 510), (13, 511), (24, 509), (34, 513.4),
         (42, 514.5), (50, 511), (61, 510), (68, 507), (76, 507), (92, 506), (108, 508), (124, 509), (139, 508), (150, 510),
         (166, 511), (182, 512.3), (197, 512.3), (205, 511), (213, 508), (221, 509), (224, 506), (232, 500.7), (247, 504)]
ver_S = [(-50, 534.6), (-42, 531.4), (-37, 537), (-32, 530.3), (-26, 537.8), (-21, 533.5), (-16, 539), (-11, 533.5), (-5, 540),
         (3, 536.7), (11, 532.5), (18, 539), (26, 540), (34, 541), (45, 539), (55, 536.7), (66, 537.8), (76, 535.6), (87, 536.7),
         (97, 534.6), (111, 541), (118, 535.6), (129, 536.7), (145, 530.3), (153, 536.7)]

ver_A_gps = [(-195, 1), (-110, 0), (-50, 0), (180, 1), (260, 1)]
ver_B_gps = [(-160, 29), (-100, 30), (-20, 31), (250, 30), (290, 30)]
ver_C_gps = [(-150, 60), (-100, 60), (-40, 61), (20, 60)]
ver_D_gps = [(-200, 90), (-160, 89), (-120, 90), (-80, 89), (-40, 90)]
ver_E_gps = [(-270, 120), (-175, 120), (-150, 120), (-120, 119), (-90, 120), (-60, 120), (10, 120), (150, 120), (210, 120)]
ver_F_gps = [(-200, 150), (-170, 150), (-150, 150), (-120, 150), (-90, 150), (-40, 150), (30, 150), (100, 150), (160, 150)]
ver_G_gps = [(-250, 179), (-240, 179), (-200, 179), (-170, 179), (-160, 179), (-140, 179), (-130, 179), (-120, 179), (-100, 179),
             (-80, 179), (-60, 179), (-40, 179), (-20, 179), (0, 179), (40, 179), (80, 179), (120, 179), (160, 179), (180, 179),
             (190, 179), (200, 179), (210, 179), (220, 179), (230, 179), (320, 179)]
ver_H_gps = [(-225, 210.8), (-215, 210.8), (-205, 210.8), (-195, 210.8), (-185, 210.8), (-175, 210.8), (-160, 210.8), (-150, 210.8),
             (-140, 210.8), (-130, 210.8), (-120, 210.8), (-30, 209.6), (60, 209.6), (75, 209.6), (90, 209.6), (105, 209.6), (120, 209.6),
             (135, 209.6), (150, 209.6), (165, 209.6), (175, 209.6), (185, 209.6)]
ver_I_gps = [(-210, 240), (-195, 240), (-180, 240), (-165, 240), (-155, 240), (-148, 240), (-142, 240), (-136, 240), (-130, 240),
             (-120, 240), (-110, 240), (3, 240), (108, 239.5), (118, 239.5), (134, 239.5), (347, 239)]
ver_J_gps = [(-215, 270), (-205, 270), (-195, 270), (-185, 270), (-170, 270), (-150, 270), (-140, 270), (-130, 270), (-115, 270),
             (-100, 270), (-39, 269), (16, 269), (66, 270), (80, 270), (95, 270), (110, 270), (124, 270), (145, 270), (229, 269)]
ver_K_gps = [(-213, 299.6), (-197, 299.6), (-182, 299.6), (-170, 300), (-160, 300), (-152, 301), (-148, 300), (-144, 301),
             (-105, 300), (-50, 300), (24, 300.5), (32, 300.5), (68, 302), (72, 300), (76, 303), (80, 301), (84, 299),
             (88, 302), (92, 300), (208, 300), (334, 300)]
ver_L_gps = [(-200, 329), (-190, 329), (-180, 329), (-135, 329), (-120, 329), (-110, 329), (-100, 329), (-80, 328), (37, 329),
             (165, 329), (208, 329), (229, 330), (250, 329), (274, 329), (297, 329), (324, 329), (339, 329), (355, 329)]
ver_M_gps = [(-205, 360), (-190, 360), (-180, 360), (-170, 360.5), (-160, 360.5), (-150, 360.5), (-140, 360), (-130, 360), (-120, 360),
             (-110, 360), (-95, 360), (-70, 359.5), (-45, 359.5), (35, 360), (75, 360), (165, 360), (187, 359.5), (377, 361)]
ver_N_gps = [(-205, 389), (-170, 389), (-160, 389), (-150, 389), (-140, 389), (-130, 389), (-115, 389), (-100, 389), (-85, 389),
             (-75, 389), (-40, 389), (-30, 389), (20, 389), (60, 389), (90, 389), (110, 389), (130, 389), (150, 389), (170, 389),
             (230, 389), (280, 389), (310, 389), (346, 389)]
ver_O_gps = [(-155, 419), (-142, 419), (-124, 419), (-105, 419), (-37, 418.4), (13, 419), (55, 419), (76, 419), (124, 419),
             (160, 419), (213, 419)]
ver_P_gps = [(-176, 450), (-161, 450), (-140, 450), (-119, 450), (-105, 450), (-87, 450), (-80, 450), (-72, 450), (-45, 450),
             (8, 450), (124, 452), (174, 450), (240, 450)]
ver_Q_gps = [(-172, 478.4), (-155, 478.4), (-139, 481.6), (-124, 477.4), (-113, 478.4), (-92, 477.8), (-71, 479.5), (-29, 478.4),
             (11, 479.5), (76, 479.5), (84, 478.4), (163, 478.4), (205, 479.5), (239, 479.5), (266, 479.5), (339, 479.5), (403, 479.5)]
ver_R_gps = [(-134, 510), (-118, 509), (-89, 510), (-84, 510), (-71, 510), (-66, 510), (-45, 509), (-34, 510), (-18, 510), (-8, 510),
             (11, 509), (37, 509), (50, 509), (76, 509), (95, 509), (145, 508), (150, 508), (247, 510), (332, 509)]
ver_S_gps = [(-129, 538), (-116, 538.5), (-103, 539), (-100, 539), (-79, 540), (-76, 540), (-63, 541), (-49, 541), (8, 539), (68, 539),
             (82, 539), (92, 539), (97, 539), (163, 539), (213, 538), (275, 539), (334, 539)]

ver_err = [(190, 229, 3), (196, 229, 5), (203, 229, 7), (209, 229, 8), (215, 229, 9), (221, 229, 9), (227, 229, 7),
           (14, 241, 3), (20, 241, 5), (26, 241, 6),
           (25, 451, 4), (33, 451, 6), (40, 451, 7), (47, 451, 6), (55, 451, 4),
           (95, 0, 5), (105, 0, 8), (112, 1, 11), (118, 1, 9), (126, 0, 6), (136, 0, 4), (146, 0, 3)]

ver_faults = [("SAF", -133, 504, 522, -153, 525), ("MF", -100, 503, 521, -97, 525), ("BSF", -75, 502, 519, -49, 520),
              ("SAF", -152, 467, 492, -176, 490), ("MF", -112, 472, 490, -129, 490), ("BSF", -84, 471, 488, -58, 489),
              ("SAF", -167, 442, 466, -192, 461.5), ("MF", -119, 445, 468, -142, 454), ("BSF", -87, 444, 467, -60, 463.6),
              ("SAF", -165, 407, 430, -187, 430), ("RCF", -133, 411, 430, -129, 418), ("GVF", -83, 408, 432, -53, 428.6),
              ("SAF", -166, 385, 404, -189, 402.5), ("RCF", -136, 380, 400, -129, 404), ("GVF", -108, 378, 400, -79, 398),
              ("SAF-SF", -167, 347, 370.5, -205, 371), ("HF", -138, 349, 373.7, -155, 369), ("CF", -127, 349, 372, -106, 370.5),
              ("SAF-SCM", -159, 316.5, 340, -205, 340), ("CF", -137, 318.6, 342, -116, 339),
              ("SAF-SJB", -146, 291, 314, -186, 308), ("CF", -139, 292, 314, -118, 312), ("MLF", 84, 288, 311, 111, 291),
              ("SAF-Cr", -143, 258, 281.6, -182, 260), ("OWF", 79, 259.4, 282.6, 111, 261.5),
              ("SAF-Ca", -141, 228.7, 252, -180, 231), ("OVF", 62, 225.6, 249, 37, 229), ("DVF", 87, 226.8, 250, 116, 247),
              ("SAF-Ca", -140, 200, 223.4, -186, 201), ("OVF", 55, 200, 223, 26, 202), ("PVF", 84, 198, 222.4, 81, 196), ("DVF", 117, 198, 221, 147, 220),
              ("SAF-M", -125, 168, 190, -150, 169), ("OVF", 0, 168, 190, -10, 169), ("PVF", 85, 176, 198, 80, 166), ("DVF", 145, 170, 190, 150, 168),
              ("SAF-M", -80, 140, 162, -110, 140), ("BWF", 38, 140, 162, 25, 140), ("DVF", 120, 140, 162, 125, 140),
              ("SAF-M", -55, 110, 132, -80, 109), ("CRF", 45, 112, 134, 60, 110),
              ("SJF", -45, 80, 102, -58, 79), ("BF", -17, 80, 102, -8, 79), ("LF", 45, 80, 102, 55, 79),
              ("SJF", -38, 50, 72, -48, 49), ("SAF-Co", 5, 50, 72, 35, 50),
              ("SJF", -35, 22, 40, -50, 20), ("SAF-Co", 8, 22, 40, 38, 20),
              ("IF", -15, -8, 12, -25, -8)]

ver_left = [(-185, 1), (-185, 30), (-185, 60), (-165, 90), (-160, 120), (-175, 150), (-190, 180), (-271, 208.6),
            (-237, 240), (-235, 271), (-233, 299.6), (-207, 329), (-208, 360), (-205, 391.6), (-187, 420), (-192, 450),
            (-190, 479.5), (-174, 512), (-154, 540)]

PAR = dict(blue=[par_A, par_B, par_C, par_D, par_E, par_F, par_G, par_H, par_I, par_J, par_K, par_L, par_M, par_N, par_O, par_P, par_Q, par_R, par_S],
           gps=[par_A_gps, par_B_gps, par_C_gps, par_D_gps, par_E_gps, par_F_gps, par_G_gps, par_H_gps, par_I_gps, par_J_gps, par_K_gps,
                par_L_gps, par_M_gps, par_N_gps, par_O_gps, par_P_gps, par_Q_gps, par_R_gps, par_S_gps],
           err=par_err, faults=par_faults, left=par_left, right_x=368, right_dy=6, letter='a')
NOR = dict(blue=[nor_A, nor_B, nor_C, nor_D, nor_E, nor_F, nor_G, nor_H, nor_I, nor_J, nor_K, nor_L, nor_M, nor_N, nor_O, nor_P, nor_Q, nor_R, nor_S],
           gps=[nor_A_gps, nor_B_gps, nor_C_gps, nor_D_gps, nor_E_gps, nor_F_gps, nor_G_gps, nor_H_gps, nor_I_gps, nor_J_gps, nor_K_gps,
                nor_L_gps, nor_M_gps, nor_N_gps, nor_O_gps, nor_P_gps, nor_Q_gps, nor_R_gps, nor_S_gps],
           err=nor_err, faults=nor_faults, left=nor_left, right_x=366, right_dy=3, letter='b')
VER = dict(blue=[ver_A, ver_B, ver_C, ver_D, ver_E, ver_F, ver_G, ver_H, ver_I, ver_J, ver_K, ver_L, ver_M, ver_N, ver_O, ver_P, ver_Q, ver_R, ver_S],
           gps=[ver_A_gps, ver_B_gps, ver_C_gps, ver_D_gps, ver_E_gps, ver_F_gps, ver_G_gps, ver_H_gps, ver_I_gps, ver_J_gps, ver_K_gps,
                ver_L_gps, ver_M_gps, ver_N_gps, ver_O_gps, ver_P_gps, ver_Q_gps, ver_R_gps, ver_S_gps],
           err=ver_err, faults=ver_faults, left=ver_left, right_x=371, right_dy=1, letter='c')


def setup_axes(ax):
    ax.set_xlim(-300, 400)
    ax.set_ylim(-20, 560)
    ax.xaxis.set_major_locator(MultipleLocator(100))
    ax.yaxis.set_major_locator(MultipleLocator(20))
    ax.yaxis.set_minor_locator(MultipleLocator(4))
    ax.tick_params(axis='y', which='major', direction='inout', length=9, width=1.0, right=True,
                   labelsize=10, labelcolor='#333333', pad=2)
    ax.tick_params(axis='y', which='minor', direction='in', length=4, width=0.8, right=True)
    ax.tick_params(axis='x', which='major', direction='out', length=6, width=1.0, top=True,
                   labelsize=11, labelcolor='#333333', pad=3)
    for s in ax.spines.values():
        s.set_linewidth(2.0)
    for y in range(-20, 561, 20):
        ax.axhline(y, color='#b0b0b0', lw=1.3, zorder=0)


def draw_panel(ax, d, thin=False):
    setup_axes(ax)
    ex = np.array([e[0] for e in d['err']])
    ey = np.array([e[1] for e in d['err']])
    eh = np.array([e[2] for e in d['err']])
    ax.vlines(ex, ey - eh, ey + eh, color='#8a8a8a', lw=0.7, zorder=1)

    for pts in d['gps']:
        x, y = zip(*pts)
        ax.plot(x, y, 's', color=RED, ms=4.5, mec='none', zorder=2 if thin else 4)

    for pts in d['blue']:
        x, y = zip(*pts)
        if thin:
            ax.plot(x, y, '-', color=BLUE, lw=0.9, zorder=3)
            ax.plot(x, y, 'o', color=BLUE, ms=2.6, mec='none', zorder=3)
        else:
            ax.plot(x, y, '-', color=BLUE, lw=2.7, zorder=3)
            ax.plot(x, y, 's', color=BLUE, ms=3.0, mec='none', zorder=3)

    for name, x, y0, y1, lx, ly in d['faults']:
        ax.vlines(x, y0, y1, color=ORANGE, lw=2.6, zorder=5)
        ax.text(lx, ly, name, fontsize=12.5, style='italic', color='#1a1a1a',
                ha='center', va='center', zorder=6)

    for i, (x, y) in enumerate(d['left']):
        ax.text(x, y, NAMES[i], fontsize=15, weight='bold', style='italic',
                ha='center', va='center', zorder=6)
        ax.text(d['right_x'], 30 * i + d['right_dy'], RIGHT_NAMES[i], fontsize=15,
                weight='bold', style='italic', ha='center', va='center', zorder=6)

    ax.text(-255, 540, d['letter'], fontsize=38, ha='center', va='center', zorder=6)


fig = plt.figure(figsize=(20.2, 10.1), dpi=100)
ax_a = fig.add_axes([0.0252, 0.0297, 0.2847, 0.908])
ax_b = fig.add_axes([0.3604, 0.0297, 0.2861, 0.908])
ax_c = fig.add_axes([0.7054, 0.0297, 0.2876, 0.908])

draw_panel(ax_a, PAR)
draw_panel(ax_b, NOR)
draw_panel(ax_c, VER, thin=True)

# tectonic domains crossed by the profiles
ax_a.text(171, 428, 'Northern Walker Lane', rotation=84, fontsize=25, weight='bold', style='italic',
          color=GREY_TXT, ha='center', va='center', zorder=1)
ax_a.text(229, 406, 'Fault Zone', rotation=84, fontsize=25, weight='bold', style='italic',
          color=GREY_TXT, ha='center', va='center', zorder=1)
ax_a.text(52, 156, 'Mojave', rotation=70, fontsize=16, weight='bold', style='italic',
          color=GREY_TXT, ha='center', va='center', zorder=1)
ax_a.text(79, 146, 'Shear Zone', rotation=70, fontsize=16, weight='bold', style='italic',
          color=GREY_TXT, ha='center', va='center', zorder=1)

fig.text(302 / 2020, 1 - 48 / 1010, 'Parallel to RPM', fontsize=38, ha='center', va='baseline')
fig.text(992 / 2020, 1 - 48 / 1010, 'Normal to RPM', fontsize=38, ha='center', va='baseline')
fig.text(1700 / 2020, 1 - 48 / 1010, 'Vertical', fontsize=38, ha='center', va='baseline')

fig.savefig('out.png', dpi=100)
